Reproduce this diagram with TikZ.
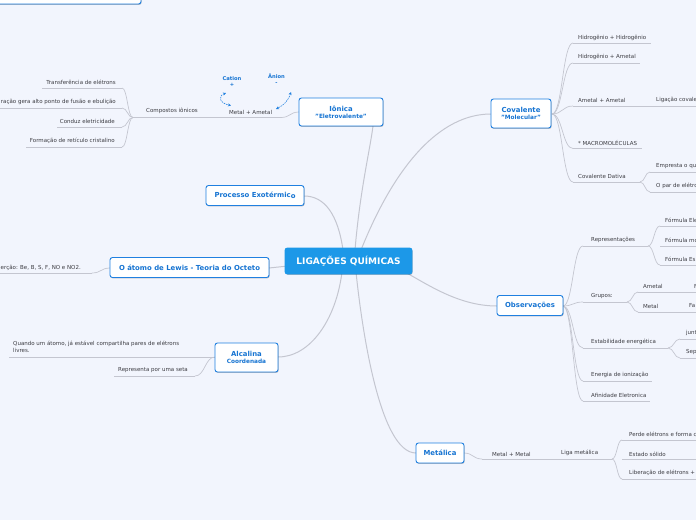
\documentclass[tikz,border=0pt]{standalone}
\usepackage{fontspec}
\setmainfont{DejaVu Sans}
\usetikzlibrary{calc,arrows.meta,shadows}
\definecolor{bgc}{RGB}{242,245,253}
\definecolor{linec}{RGB}{196,198,208}
\definecolor{boxc}{RGB}{32,128,224}
\definecolor{boxt}{RGB}{22,116,210}
\definecolor{cenc}{RGB}{28,152,232}
\definecolor{txt}{RGB}{60,60,66}
\newcommand\bra[2]{\path ($(#1)!.5!(#2)$) coordinate (bm); \draw[conn] (#1) .. controls (bm |- #1) and (bm |- #2) .. (#2);}
\newcommand\ulx[4]{\coordinate (#1-l) at (#2,#4); \coordinate (#1-r) at (#3,#4); \draw[conn] (#1-l) -- (#1-r);}
\begin{document}
\begin{tikzpicture}[x=1pt,y=-1pt,
  conn/.style={draw=linec, line width=0.7pt},
  mainconn/.style={draw=linec, line width=1pt},
  sub/.style={font=\fontsize{5.5}{7}\selectfont, text=txt, inner sep=0pt, anchor=west},
  subr/.style={sub, anchor=east},
  mainbox/.style={draw=boxc, line width=0.9pt, fill=white, rounded corners=2.5pt, text=boxt,
    font=\fontsize{6.9}{8}\selectfont\bfseries, align=center, inner sep=1pt,
    drop shadow={opacity=0.25, shadow xshift=0.6pt, shadow yshift=-0.9pt, fill=black}},
  ion/.style={font=\fontsize{5.2}{6}\selectfont\bfseries, text=boxt, inner sep=0pt, align=center},
  rel/.style={draw=boxc, dashed, dash pattern=on 1.5pt off 1pt, line width=0.6pt, {Stealth[length=3pt,width=3pt]}-{Stealth[length=3pt,width=3pt]}}
]
\fill[bgc] (0,0) rectangle (696,520);
\useasboundingbox (0,0) rectangle (696,520);
\clip (0,0) rectangle (696,520);

\coordinate (c0) at (348.5,261);

% ---------- main connectors ----------
\coordinate (ion-b) at (373,126);
\coordinate (cov-w) at (491,114);
\coordinate (pro-e) at (304,196);
\coordinate (lew-e) at (269,268);
\coordinate (alc-e) at (278,357);
\coordinate (met-w) at (416,453);
\coordinate (obs-w) at (497,306);
\coordinate (ct1) at (355,250);
\coordinate (ct2) at (361,250);
\coordinate (ct3) at (343,250);
\coordinate (ct4) at (288,266);
\coordinate (cb1) at (342,272);
\coordinate (cb2) at (356,272);
\coordinate (cb3) at (405,272);
\draw[mainconn] (ct1) .. controls (360,190) and (370,150) .. (ion-b);
\draw[mainconn] (ct2) .. controls (395,165) and (440,114) .. (cov-w);
\draw[mainconn] (pro-e) .. controls (325,196) and (338,215) .. (ct3);
\draw[mainconn] (lew-e) -- (ct4);
\draw[mainconn] (alc-e) .. controls (310,357) and (336,320) .. (cb1);
\draw[mainconn] (met-w) .. controls (380,453) and (362,330) .. (cb2);
\draw[mainconn] (obs-w) .. controls (460,306) and (430,286) .. (cb3);

% ---------- Iônica branch ----------
\coordinate (ion-w) at (299,112);
\ulx{ma}{133}{281}{117.5}
\bra{ma-r}{ion-w}
\ulx{tr}{42}{122}{88}
\ulx{at}{-5}{122}{108}
\ulx{ce}{57}{122}{127}
\ulx{fr}{26}{122}{147}
\bra{ma-l}{tr-r}
\bra{ma-l}{at-r}
\bra{ma-l}{ce-r}
\bra{ma-l}{fr-r}
\node[sub] (t-ma) at (229,112) {Metal + Ametal};
\node[sub] (t-ci) at (146,111) {Compostos iônicos};
\node[subr] (t-tr) at (116,82) {Transferência de elétrons};
\node[subr] (t-at) at (116,102) {ração gera alto ponto de fusão e ebulição};
\node[subr] (t-ce) at (115,121) {Conduz eletricidade};
\node[subr] (t-fr) at (115,141) {Formação de retículo cristalino};
\node[ion] (cat) at (232,81.5) {Cation\\+};
\node[ion] (ani) at (276.5,79.5) {Ânion\\-};
\coordinate (ca1) at (226,93);
\coordinate (ca2) at (231,105.5);
\coordinate (an1) at (291,92);
\coordinate (an2) at (276,109);
\draw[rel] (ca1) .. controls (218,96) and (219,103) .. (ca2);
\draw[rel] (an1) .. controls (288,101) and (284,105) .. (an2);

% ---------- Covalente branch ----------
\coordinate (cov-e) at (552,114);
\ulx{hh}{573}{651}{43}
\ulx{ha}{573}{640}{63}
\ulx{aa}{573}{700}{106}
\ulx{mc}{573}{642}{148.5}
\ulx{dv}{573}{640}{182}
\ulx{em}{650}{700}{172}
\ulx{op}{650}{700}{192}
\bra{cov-e}{hh-l}
\bra{cov-e}{ha-l}
\bra{cov-e}{aa-l}
\bra{cov-e}{mc-l}
\bra{cov-e}{dv-l}
\bra{dv-r}{em-l}
\bra{dv-r}{op-l}
\node[sub] (t-hh) at (578,37.5) {Hidrogênio + Hidrogênio};
\node[sub] (t-ha) at (578,57) {Hidrogênio + Ametal};
\node[sub] (t-aa) at (578,100) {Ametal + Ametal};
\node[sub] (t-lc) at (656,100) {Ligação covalente};
\node[sub] (t-mc) at (578,143) {* MACROMOLÉCULAS};
\node[sub] (t-dv) at (578,176) {Covalente Dativa};
\node[sub] (t-em) at (656,166) {Empresta o qu};
\node[sub] (t-op) at (656,186) {O par de elétro};

% ---------- Observações branch ----------
\coordinate (obs-e) at (563,306);
\ulx{rp}{583}{648}{246}
\ulx{fe}{660}{700}{226}
\ulx{fm}{660}{700}{246}
\ulx{fs}{660}{700}{265}
\ulx{gr}{583}{627}{302}
\ulx{am}{638}{700}{292}
\ulx{mt}{638}{700}{312}
\ulx{eb}{583}{668}{348}
\ulx{jt}{680}{700}{339}
\ulx{sp}{680}{700}{358}
\ulx{ei}{583}{652}{381}
\ulx{af}{583}{650}{401}
\bra{obs-e}{rp-l}
\bra{obs-e}{gr-l}
\bra{obs-e}{eb-l}
\bra{obs-e}{ei-l}
\bra{obs-e}{af-l}
\bra{rp-r}{fe-l}
\bra{rp-r}{fs-l}
\bra{gr-r}{am-l}
\bra{gr-r}{mt-l}
\bra{eb-r}{jt-l}
\bra{eb-r}{sp-l}
\node[sub] (t-rp) at (591,240) {Representações};
\node[sub] (t-fe) at (665,220) {Fórmula Ele};
\node[sub] (t-fm) at (665,240) {Fórmula mo};
\node[sub] (t-fs) at (665,259) {Fórmula Es};
\node[sub] (t-gr) at (591,296) {Grupos:};
\node[sub] (t-am) at (643,286) {Ametal};
\node[sub] (t-f1) at (694,286) {F};
\node[sub] (t-mt) at (643,306) {Metal};
\node[sub] (t-f2) at (689,306) {Fa};
\node[sub] (t-eb) at (591,342) {Estabilidade energética};
\node[sub] (t-jt) at (686,333) {junt};
\node[sub] (t-sp) at (686,352) {Sep};
\node[sub] (t-ei) at (591,375) {Energia de ionização};
\node[sub] (t-af) at (591,395) {Afinidade Eletronica};

% ---------- Metálica branch ----------
\coordinate (met-e) at (464,453);
\ulx{mm}{482}{612}{459}
\ulx{pe}{622}{700}{440}
\ulx{es}{622}{700}{459}
\ulx{lb}{622}{700}{479}
\bra{met-e}{mm-l}
\bra{mm-r}{pe-l}
\bra{mm-r}{lb-l}
\node[sub] (t-mm) at (492,454) {Metal + Metal};
\node[sub] (t-lm) at (561,453) {Liga metálica};
\node[sub] (t-pe) at (629,434) {Perde elétrons e forma c};
\node[sub] (t-es) at (629,454) {Estado sólido};
\node[sub] (t-lb) at (629,473) {Liberação de elétrons +};

% ---------- Lewis branch ----------
\coordinate (lew-w) at (110,268);
\ulx{lw}{-5}{92}{273}
\bra{lw-r}{lew-w}
\node[subr] (t-lw) at (81,268) {erção: Be, B, S, F, NO e NO2.};

% ---------- Alcalina branch ----------
\coordinate (alc-w) at (215,357);
\ulx{qd}{9}{205}{357}
\draw[conn] (qd-r) -- (alc-w);
\ulx{rs}{114}{195}{376}
\bra{rs-r}{alc-w}
\node[sub, anchor=north west, align=left] (t-qd) at (13,340.5) {Quando um átomo, já estável compartilha pares de elétrons\\livres.};
\node[sub] (t-rs) at (118,370) {Representa por uma seta};

% ---------- boxes ----------
\node[mainbox, minimum width=152pt, minimum height=18pt] (topbox) at (65,-5) {};
\node[mainbox, minimum width=84pt, minimum height=28pt] (ionica) at (341,112) {Iônica\\[-1pt]{\fontsize{5.8}{6.8}\selectfont "Eletrovalente"}};
\node[mainbox, minimum width=60pt, minimum height=29pt] (covalente) at (521,113.5) {Covalente\\[-1pt]{\fontsize{5.8}{6.8}\selectfont "Molecular"}};
\node[mainbox, minimum width=98pt, minimum height=20pt] (processo) at (255,195.5) {Processo Exotérmic\raisebox{-1pt}{o}};
\node[mainbox, minimum width=159pt, minimum height=20pt] (lewis) at (189.5,267.5) {O átomo de Lewis - Teoria do Octeto};
\node[mainbox, minimum width=66pt, minimum height=20pt] (observ) at (530,305.5) {Observações};
\node[mainbox, minimum width=63pt, minimum height=29pt] (alcalina) at (246.5,357.5) {Alcalina\\[-1pt]{\fontsize{5.8}{6.8}\selectfont Coordenada}};
\node[mainbox, minimum width=48pt, minimum height=20pt] (metalica) at (440,453) {Metálica};
\node[mainbox, draw=cenc, fill=cenc, text=white, font=\fontsize{9}{10}\selectfont\bfseries, minimum width=127pt, minimum height=26pt] (central) at (c0) {LIGAÇÕES QUÍMICAS};
\end{tikzpicture}
\end{document}
